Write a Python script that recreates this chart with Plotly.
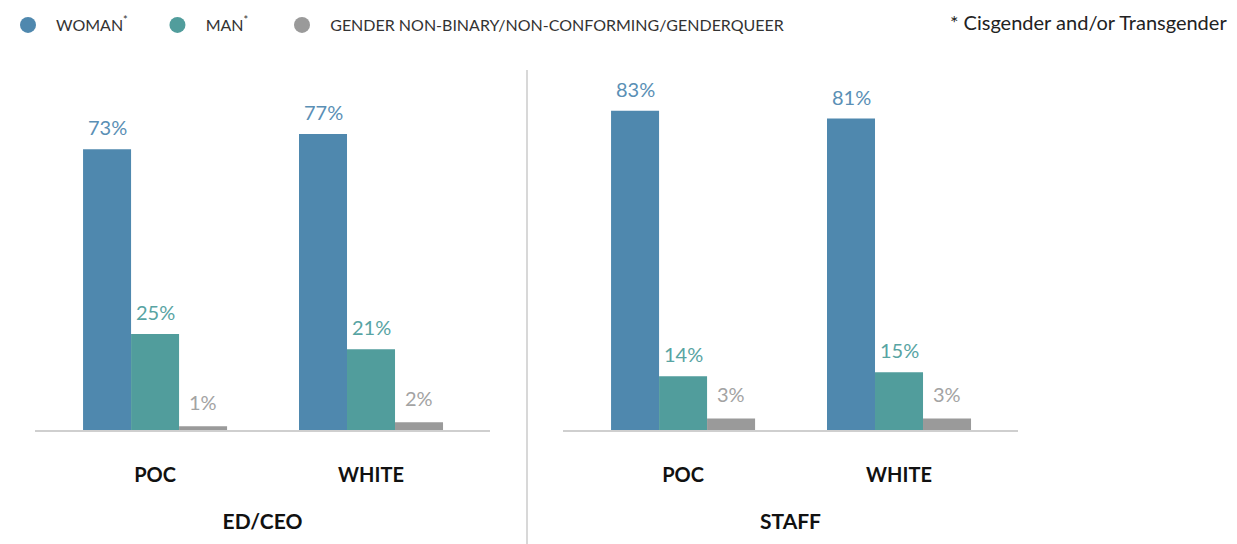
import plotly.graph_objects as go

# reference canvas; the page body adds an 8px margin, so the figure is 8px smaller
RW, RH = 1237, 544
OFF = 8
W, H = RW - OFF, RH - OFF

def px(x):
    return (x - OFF) / W

def py(y):
    return (RH - y) / H

categories = ["POC", "WHITE"]
panels = ["ED/CEO", "STAFF"]
series_names = ["WOMAN<sup>*</sup>", "MAN<sup>*</sup>", "GENDER NON-BINARY/NON-CONFORMING/GENDERQUEER"]
woman = {"ED/CEO": [73, 77], "STAFF": [83, 81]}
man = {"ED/CEO": [25, 21], "STAFF": [14, 15]}
nonbinary = {"ED/CEO": [1, 2], "STAFF": [3, 3]}
footnote = "* Cisgender and/or Transgender"

bar_colors = ["#4f88ae", "#519d9c", "#9a9a9a"]
label_colors = ["#5a8fb5", "#58a4a3", "#a3a3a3"]
FONT = "Lato"
NB = "\u00a0"
pads = [(2, 6), (2, 7), (2, 0)]

series = [woman, man, nonbinary]

fig = go.Figure()

# legend-only traces (circle markers)
for name, col, (pl, pr) in zip(series_names, bar_colors, pads):
    fig.add_trace(go.Scatter(x=[None], y=[None], mode="markers", name=NB * pl + name + NB * pr,
                             marker=dict(symbol="circle", size=16, color=col),
                             showlegend=True, xaxis="x", yaxis="y"))

axes = [("x", "y"), ("x2", "y2")]
for p, (xa, ya) in zip(panels, axes):
    for i, (s, col) in enumerate(zip(series, bar_colors)):
        fig.add_trace(go.Bar(x=categories, y=s[p], marker=dict(color=col, line=dict(width=0)),
                             showlegend=False, xaxis=xa, yaxis=ya, hoverinfo="skip"))
        # value labels
        for c, v in zip(categories, s[p]):
            fig.add_annotation(x=c, y=v, xref=xa, yref=ya, text=f"{v}%",
                               xshift=(i - 1) * 48, yshift=22 if i < 2 else 24,
                               showarrow=False, yanchor="middle",
                               font=dict(family=FONT, size=20, color=label_colors[i]))

yr = [0, 370 / 3.845]
xr = [-0.556, 1.551]
y_dom = [py(430), py(60)]
title_font = dict(family=FONT, size=21, color="#111111", weight="bold")
common_x = dict(type="category", range=xr, showgrid=False, zeroline=False,
                showline=True, linecolor="#cfcfcf", linewidth=2, ticks="",
                tickfont=dict(family=FONT, size=20, color="#111111", weight="bold"),
                ticklabelstandoff=26, automargin=False, fixedrange=True)
common_y = dict(range=yr, domain=y_dom, visible=False, fixedrange=True)

fig.update_layout(
    width=W, height=H,
    margin=dict(l=0, r=0, t=0, b=0, autoexpand=False),
    paper_bgcolor="white", plot_bgcolor="white",
    barmode="group", bargap=0.333, bargroupgap=0,
    font=dict(family=FONT),
    xaxis=dict(domain=[px(35), px(490)], anchor="y",
               title=dict(text="ED/CEO", standoff=29, font=title_font), **common_x),
    xaxis2=dict(domain=[px(563), px(1018)], anchor="y2",
                title=dict(text="STAFF", standoff=29, font=title_font), **common_x),
    yaxis=dict(anchor="x", **common_y),
    yaxis2=dict(anchor="x2", **common_y),
    legend=dict(orientation="h", x=0, y=1.0, xanchor="left", yanchor="top",
                font=dict(family=FONT, size=16, color="#333333"),
                itemsizing="trace", bgcolor="rgba(0,0,0,0)"),
    shapes=[dict(type="line", xref="paper", yref="paper",
                 x0=px(527), x1=px(527), y0=0, y1=py(70),
                 line=dict(color="#d8d8d8", width=2))],
)

fig.add_annotation(x=px(1229), y=py(22), xref="paper", yref="paper",
                   text=footnote, showarrow=False, xanchor="right", yanchor="middle",
                   font=dict(family=FONT, size=20, color="#222222"))

fig.write_html("out.html")
